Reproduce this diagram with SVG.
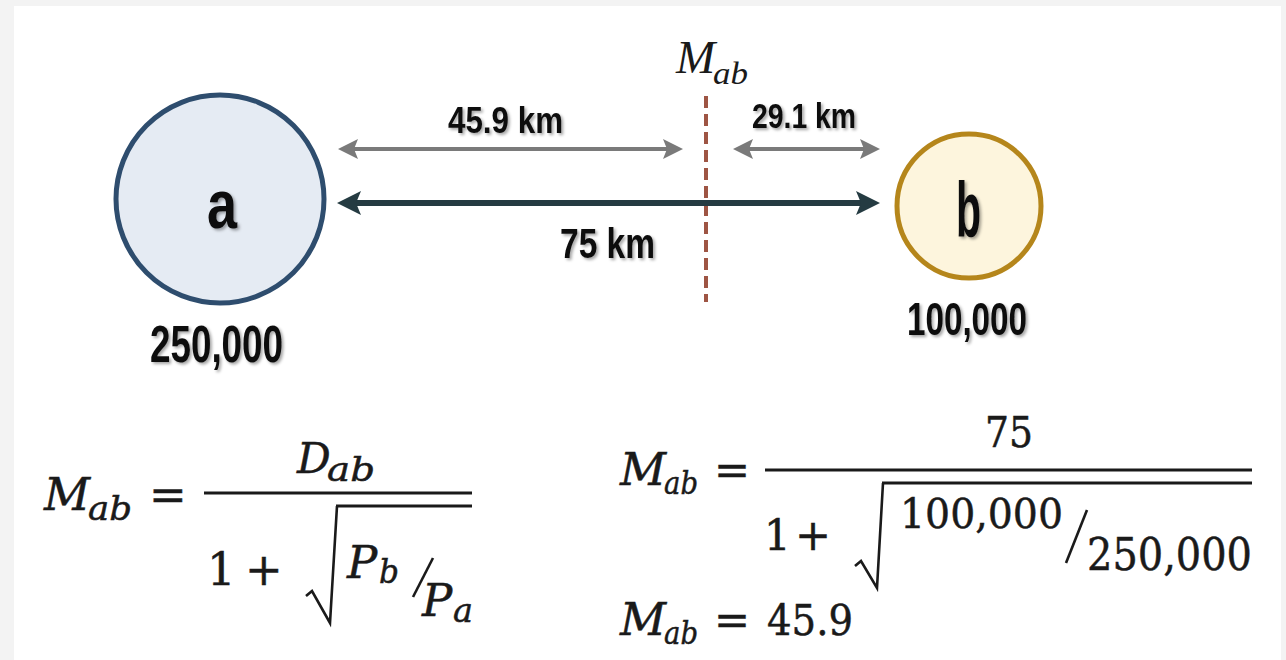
<svg xmlns="http://www.w3.org/2000/svg" width="1286" height="660" viewBox="0 0 1286 660">
  <style>
    .lbl { font-family: "Liberation Sans", "DejaVu Sans", sans-serif; font-weight: bold; fill: #111; filter: url(#sh); }
    .math { font-family: "DejaVu Serif", "Liberation Serif", serif; fill: #1a1a1a; }
    .math text { stroke: #1a1a1a; stroke-width: 0.5; }
    .it { font-style: italic; }
    .bar { stroke: #1a1a1a; stroke-width: 3; fill: none; }
    .rad { stroke: #1a1a1a; stroke-width: 2.6; fill: none; stroke-linejoin: miter; }
  </style>
  <defs>
    <filter id="sh" x="-20%" y="-20%" width="140%" height="140%">
      <feDropShadow dx="2" dy="2" stdDeviation="1.5" flood-color="#000" flood-opacity="0.35"/>
    </filter>
    <marker id="gh" viewBox="0 0 20 20" markerWidth="20" markerHeight="20" refX="6" refY="10" orient="auto-start-reverse" markerUnits="userSpaceOnUse">
      <path d="M0,0 L20,10 L0,20 L4,10 z" fill="#7a7a7a"/>
    </marker>
    <marker id="dh" viewBox="0 0 24 24" markerWidth="24" markerHeight="24" refX="8" refY="12" orient="auto-start-reverse" markerUnits="userSpaceOnUse">
      <path d="M0,0 L24,12 L0,24 L5,12 z" fill="#253b42"/>
    </marker>
  </defs>

  <rect x="0" y="0" width="1286" height="660" fill="#f3f3f3"/>
  <rect x="14" y="6" width="1267" height="654" fill="#ffffff"/>

  <g id="connectors">
    <line x1="706" y1="96" x2="706" y2="302" stroke="#9e5544" stroke-width="4" stroke-dasharray="12 6"/>
    <line x1="352" y1="149" x2="669" y2="149" stroke="#7a7a7a" stroke-width="4" marker-start="url(#gh)" marker-end="url(#gh)"/>
    <line x1="747" y1="149" x2="866" y2="149" stroke="#7a7a7a" stroke-width="4" marker-start="url(#gh)" marker-end="url(#gh)"/>
    <line x1="353" y1="203" x2="864" y2="203" stroke="#253b42" stroke-width="6" marker-start="url(#dh)" marker-end="url(#dh)"/>
  </g>

  <g id="node-a">
    <circle cx="220" cy="199" r="104" fill="#e5ebf3" stroke="#2e4d6e" stroke-width="5"/>
    <text class="lbl" x="207" y="228" font-size="69" textLength="30" lengthAdjust="spacingAndGlyphs">a</text>
    <text class="lbl" x="150" y="362" font-size="52" textLength="133" lengthAdjust="spacingAndGlyphs">250,000</text>
  </g>

  <g id="node-b">
    <circle cx="969" cy="206" r="72" fill="#fdf5dd" stroke="#b5861b" stroke-width="5"/>
    <text class="lbl" x="956" y="237" font-size="78" textLength="25" lengthAdjust="spacingAndGlyphs">b</text>
    <text class="lbl" x="907" y="335" font-size="46" textLength="120" lengthAdjust="spacingAndGlyphs">100,000</text>
  </g>

  <g id="labels">
    <text class="lbl" x="448" y="133" font-size="36" textLength="115" lengthAdjust="spacingAndGlyphs">45.9 km</text>
    <text class="lbl" x="752" y="128" font-size="35" textLength="104" lengthAdjust="spacingAndGlyphs">29.1 km</text>
    <text class="lbl" x="560" y="258" font-size="42" textLength="95" lengthAdjust="spacingAndGlyphs">75 km</text>
    <text x="676" y="73" font-family="Liberation Serif, serif" font-style="italic" font-size="47" fill="#1a1a1a">M</text>
    <text x="713" y="84" font-family="Liberation Serif, serif" font-style="italic" font-size="32" fill="#1a1a1a" textLength="35" lengthAdjust="spacingAndGlyphs">ab</text>
  </g>

  <g id="formula-general" class="math">
    <text class="it" x="44" y="510" font-size="45">M</text>
    <text class="it" x="88" y="520" font-size="33" textLength="44" lengthAdjust="spacingAndGlyphs">ab</text>
    <text x="149" y="510" font-size="45">=</text>
    <text class="it" x="297" y="473" font-size="42">D</text>
    <text class="it" x="327" y="481" font-size="33" textLength="48" lengthAdjust="spacingAndGlyphs">ab</text>
    <line class="bar" x1="204" y1="493" x2="472" y2="493"/>
    <line class="bar" x1="336" y1="506" x2="472" y2="506"/>
    <text x="207" y="585" font-size="45">1</text>
    <text x="245" y="585" font-size="45">+</text>
    <path class="rad" d="M306,596 L312,591 L330,623 L337,506"/>
    <text class="it" x="347" y="578" font-size="45">P</text>
    <text class="it" x="379" y="583" font-size="34" textLength="20" lengthAdjust="spacingAndGlyphs">b</text>
    <line x1="413" y1="597" x2="433" y2="558" stroke="#1a1a1a" stroke-width="2.6"/>
    <text class="it" x="422" y="616" font-size="45">P</text>
    <text class="it" x="453" y="622" font-size="34" textLength="20" lengthAdjust="spacingAndGlyphs">a</text>
  </g>

  <g id="formula-values" class="math">
    <text class="it" x="620" y="485" font-size="45">M</text>
    <text class="it" x="664" y="494" font-size="32" textLength="34" lengthAdjust="spacingAndGlyphs">ab</text>
    <text x="714" y="485" font-size="43">=</text>
    <text x="985" y="447" font-size="42" textLength="48" lengthAdjust="spacingAndGlyphs">75</text>
    <line class="bar" x1="765" y1="470" x2="1252" y2="470"/>
    <line class="bar" x1="882" y1="483" x2="1252" y2="483"/>
    <text x="764" y="550" font-size="42">1</text>
    <text x="795" y="550" font-size="43">+</text>
    <path class="rad" d="M855,566 L861,561 L877,588 L883,483"/>
    <text x="900" y="528" font-size="41" textLength="163" lengthAdjust="spacingAndGlyphs">100,000</text>
    <line x1="1066" y1="563" x2="1087" y2="510" stroke="#1a1a1a" stroke-width="2.6"/>
    <text x="1087" y="570" font-size="44" textLength="165" lengthAdjust="spacingAndGlyphs">250,000</text>
    <text class="it" x="620" y="635" font-size="45">M</text>
    <text class="it" x="664" y="644" font-size="32" textLength="34" lengthAdjust="spacingAndGlyphs">ab</text>
    <text x="714" y="635" font-size="43">=</text>
    <text x="767" y="635" font-size="42" textLength="86" lengthAdjust="spacingAndGlyphs">45.9</text>
  </g>
</svg>
